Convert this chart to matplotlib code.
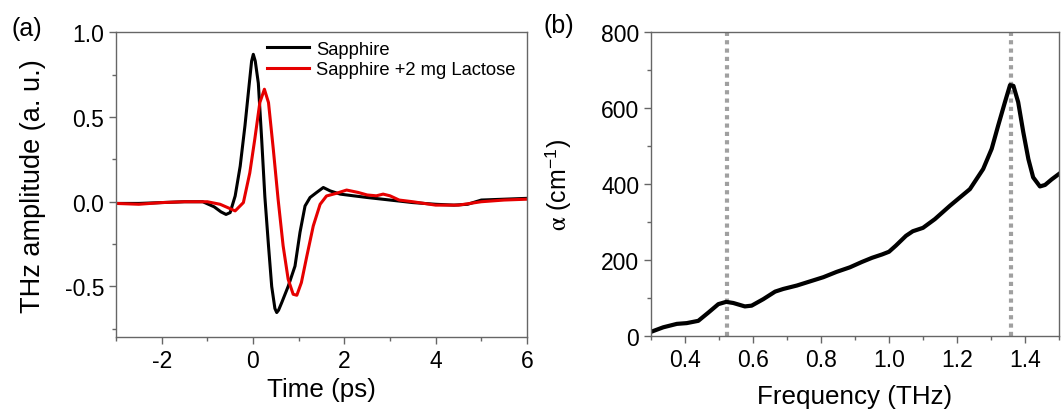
import numpy as np
import matplotlib.pyplot as plt
from matplotlib.ticker import MultipleLocator

plt.rcParams['font.family'] = ['Liberation Sans', 'DejaVu Sans']
plt.rcParams['mathtext.fontset'] = 'stix'
plt.rcParams['axes.unicode_minus'] = False

# (a) time-domain THz pulses
t_sapph = [-3.0, -2.5, -2.0, -1.5, -1.1, -0.85, -0.7, -0.59, -0.5, -0.39, -0.28, -0.175,
           -0.08, -0.03, 0.007, 0.05, 0.117, 0.19, 0.26, 0.34, 0.41, 0.48, 0.52, 0.56,
           0.63, 0.77, 0.92, 1.03, 1.14, 1.25, 1.39, 1.54, 1.69, 1.91, 2.2, 2.5, 3.0,
           3.5, 4.0, 4.4, 4.7, 5.0, 5.5, 6.0]
a_sapph = [-0.01, -0.01, -0.005, 0.0, 0.0, -0.03, -0.06, -0.075, -0.064, 0.034, 0.21,
           0.45, 0.70, 0.83, 0.87, 0.83, 0.70, 0.37, 0.03, -0.26, -0.50, -0.63, -0.654,
           -0.64, -0.595, -0.50, -0.38, -0.18, -0.025, 0.025, 0.054, 0.084, 0.064, 0.045,
           0.035, 0.025, 0.01, -0.005, -0.015, -0.02, -0.015, 0.01, 0.015, 0.02]

t_lact = [-3.0, -2.5, -2.0, -1.5, -1.0, -0.72, -0.55, -0.39, -0.21, -0.07, 0.04, 0.15,
          0.25, 0.34, 0.445, 0.55, 0.66, 0.77, 0.88, 0.96, 1.06, 1.18, 1.32, 1.47, 1.61,
          1.83, 2.05, 2.3, 2.5, 2.7, 2.85, 3.0, 3.2, 3.5, 4.0, 4.5, 5.0, 5.5, 6.0]
a_lact = [-0.01, -0.015, -0.005, 0.0, 0.0, -0.015, -0.035, -0.054, -0.005, 0.17, 0.37,
          0.585, 0.664, 0.585, 0.31, 0.015, -0.26, -0.457, -0.546, -0.552, -0.477, -0.32,
          -0.143, -0.015, 0.034, 0.05, 0.069, 0.055, 0.04, 0.035, 0.045, 0.035, 0.01,
          0.0, -0.02, -0.02, 0.0, 0.01, 0.015]

# (b) absorption coefficient
freq = [0.297, 0.336, 0.376, 0.405, 0.439, 0.469, 0.498, 0.521, 0.542, 0.576, 0.596,
        0.630, 0.665, 0.689, 0.729, 0.768, 0.807, 0.846, 0.885, 0.92, 0.95, 0.98, 1.00,
        1.02, 1.05, 1.07, 1.10, 1.135, 1.179, 1.238, 1.277, 1.302, 1.321, 1.341, 1.356,
        1.366, 1.380, 1.395, 1.41, 1.424, 1.444, 1.459, 1.479, 1.50]
alpha = [10, 23, 32, 34, 40, 62, 84, 90, 87, 78, 80, 97, 117, 124, 133, 144, 155, 169,
         181, 195, 206, 215, 222, 238, 264, 276, 285, 308, 343, 387, 440, 493, 554, 616,
         661, 659, 616, 537, 466, 418, 394, 398, 413, 427]
peaks = [0.524, 1.36]

fig = plt.figure(figsize=(10.61, 4.10), dpi=100)
ax1 = fig.add_axes([0.1093, 0.1749, 0.3874, 0.7439])
ax2 = fig.add_axes([0.6136, 0.1780, 0.3845, 0.7407])

ax1.plot(t_sapph, a_sapph, color='black', lw=2.2, label='Sapphire')
ax1.plot(t_lact, a_lact, color='#e60000', lw=2.2, label='Sapphire +2 mg Lactose')
ax1.set_xlim(-3, 6)
ax1.set_ylim(-0.8, 1.0)
ax1.xaxis.set_major_locator(MultipleLocator(2))
ax1.xaxis.set_minor_locator(MultipleLocator(1))
ax1.yaxis.set_major_locator(MultipleLocator(0.5))
ax1.yaxis.set_minor_locator(MultipleLocator(0.25))
ax1.set_xlabel('Time (ps)', fontsize=18.7)
ax1.set_ylabel('THz amplitude (a. u.)', fontsize=19.5)
ax1.xaxis.set_label_coords(0.5, -0.13)
ax1.yaxis.set_label_coords(-0.171, 0.5)
ax1.legend(loc='upper left', bbox_to_anchor=(0.348, 1.0), frameon=False, fontsize=13.2,
           handlelength=2.3, handletextpad=0.35, labelspacing=0.2, borderaxespad=0.05)

ax2.plot(freq, alpha, color='black', lw=3)
for p in peaks:
    ax2.axvline(p, color='#a0a0a0', ls=(0, (1, 1)), lw=3, zorder=0)
ax2.set_xlim(0.3, 1.5)
ax2.set_ylim(0, 800)
ax2.xaxis.set_major_locator(MultipleLocator(0.2))
ax2.xaxis.set_minor_locator(MultipleLocator(0.1))
ax2.yaxis.set_major_locator(MultipleLocator(200))
ax2.yaxis.set_minor_locator(MultipleLocator(100))
ax2.xaxis.set_major_formatter(plt.FuncFormatter(lambda v, pos: f'{v:.1f}'))
ax2.set_xlabel('Frequency (THz)', fontsize=18.7)
ax2.set_ylabel(r'$\mathrm{\alpha}$ (cm$^{\mathregular{-1}}$)', fontsize=18)
ax2.xaxis.set_label_coords(0.5, -0.158)
ax2.yaxis.set_label_coords(-0.189, 0.5)

for ax in (ax1, ax2):
    for s in ax.spines.values():
        s.set_color('#666666')
        s.set_linewidth(1.0)
    ax.tick_params(which='both', direction='out', colors='#666666', labelcolor='black',
                   labelsize=16.5, top=False, right=False)
    ax.tick_params(which='major', length=5, width=1)
    ax.tick_params(which='minor', length=3, width=1)

fig.text(0.011, 0.93, '(a)', fontsize=18, va='center')
fig.text(0.512, 0.937, '(b)', fontsize=18, va='center')

fig.savefig('out.png', dpi=100)
